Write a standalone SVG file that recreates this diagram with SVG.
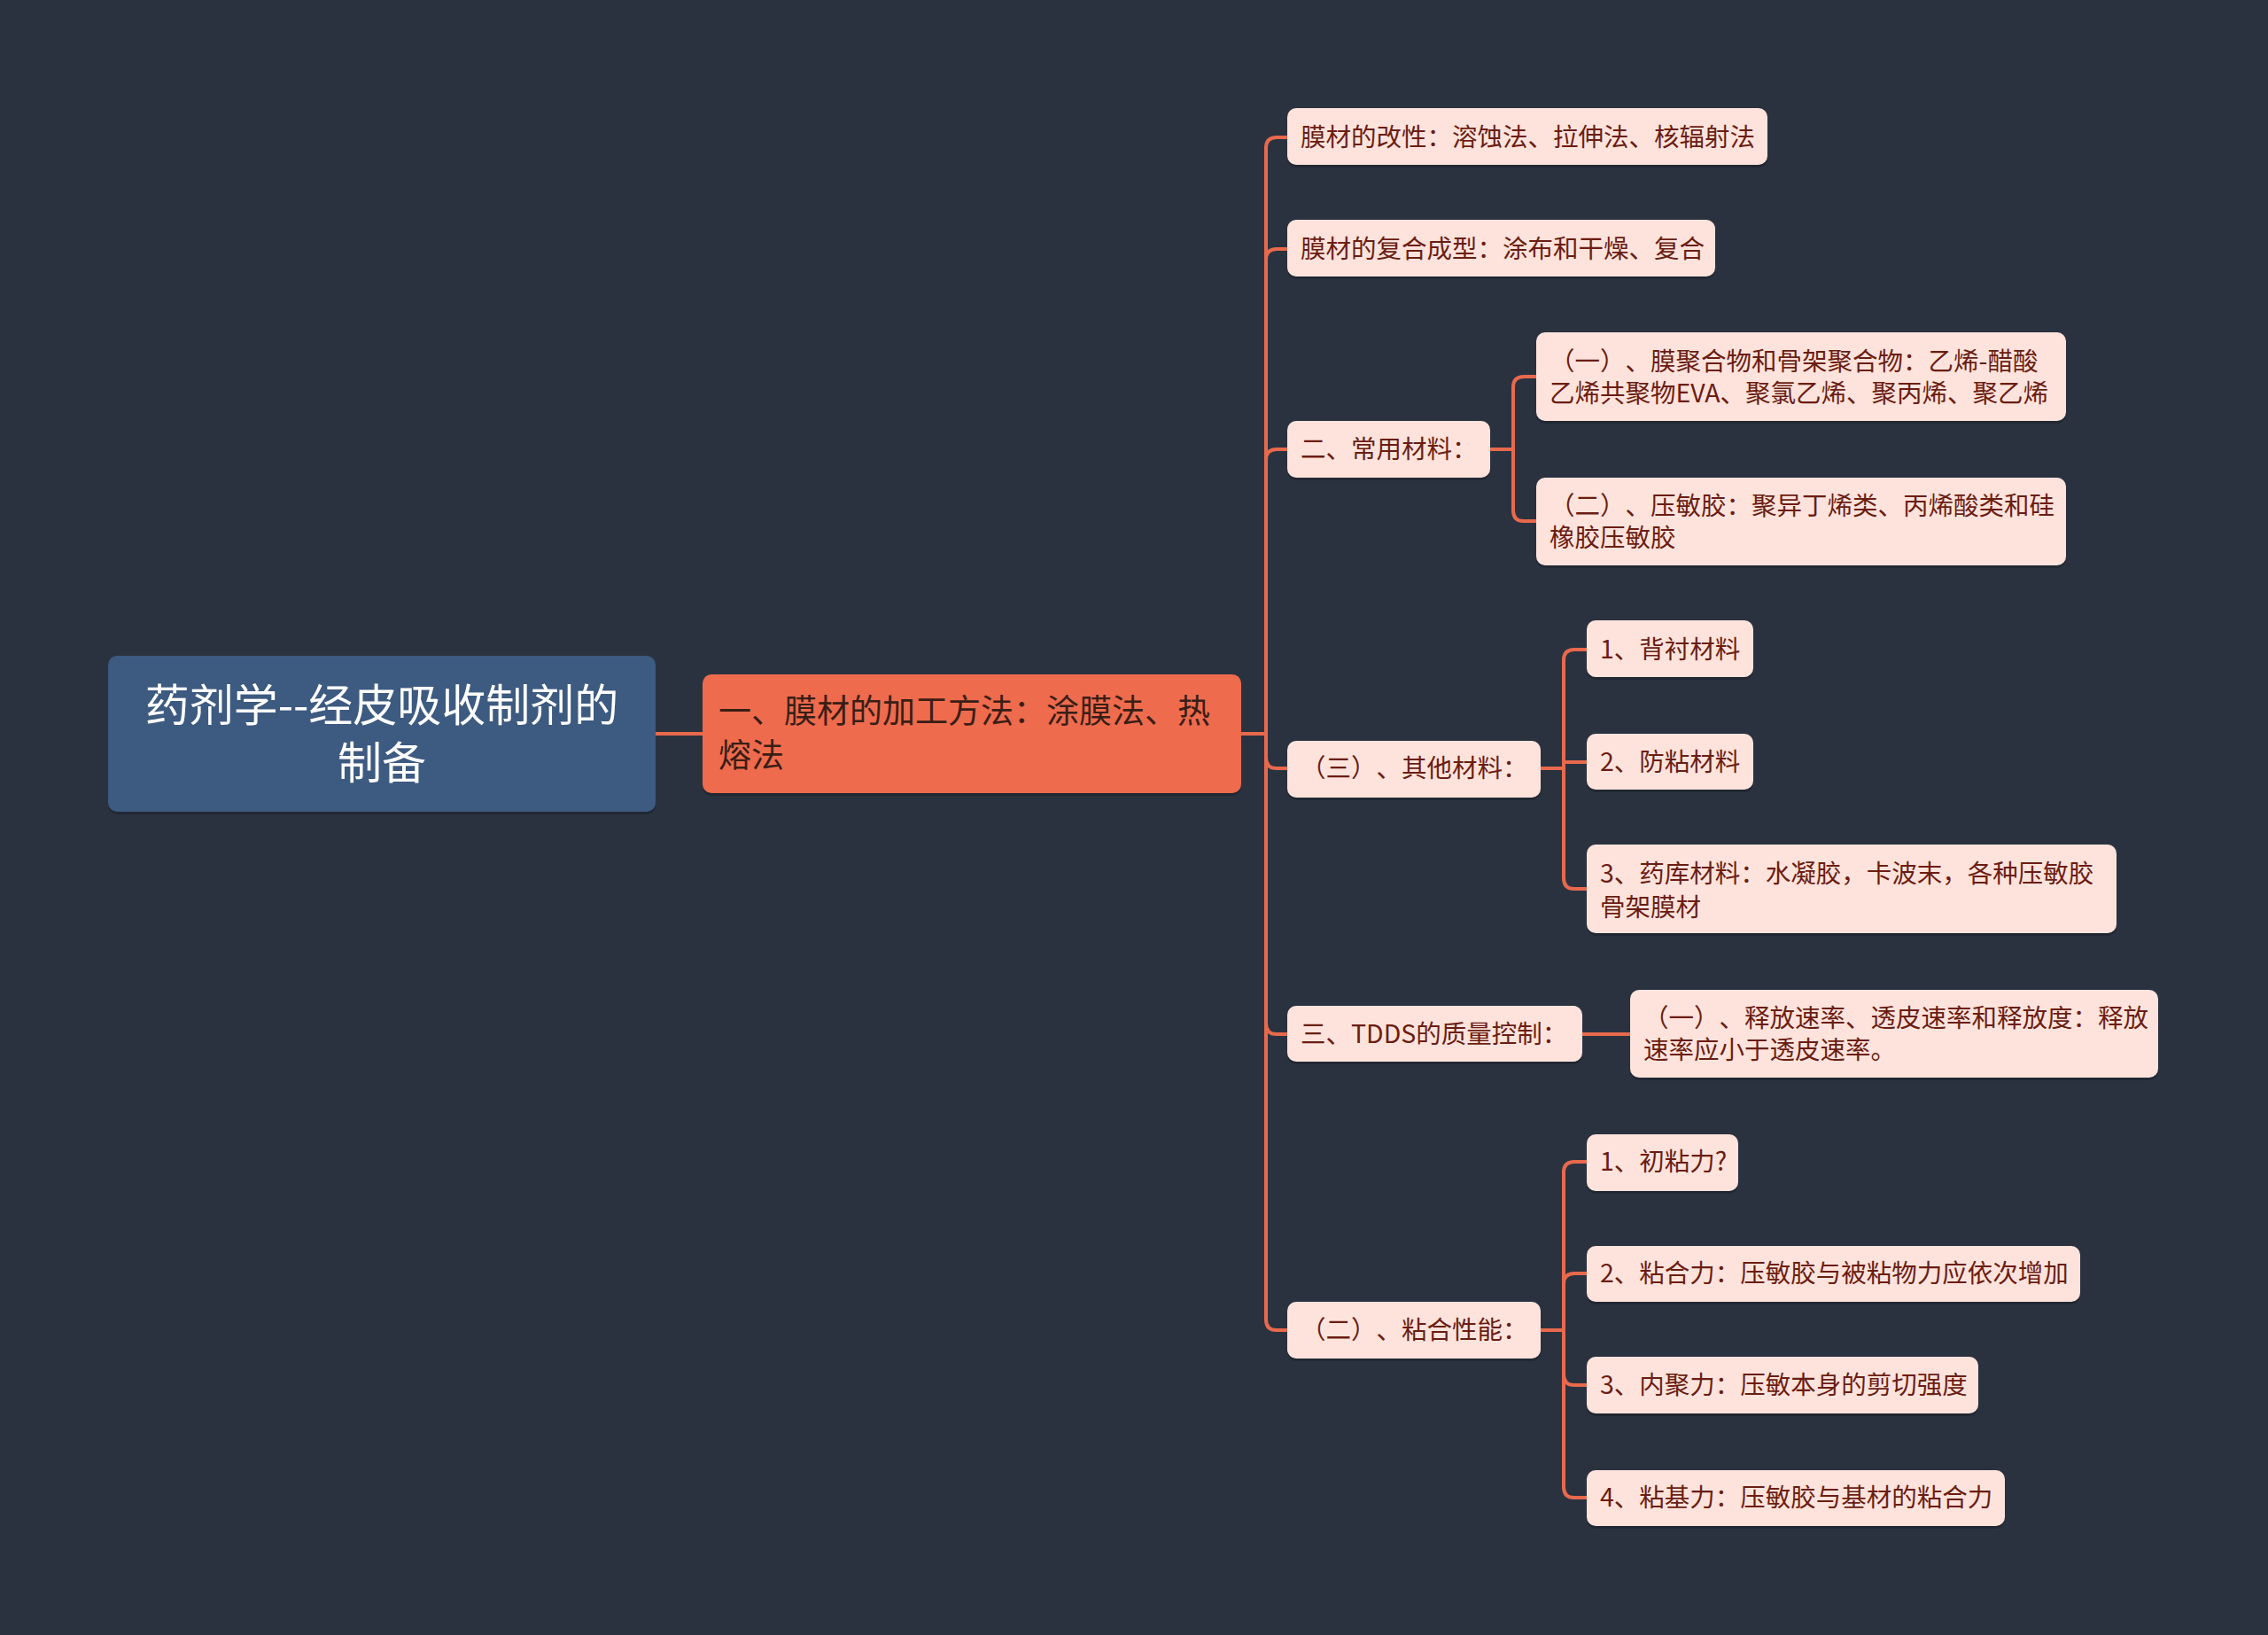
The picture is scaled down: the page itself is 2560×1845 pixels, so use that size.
<svg xmlns="http://www.w3.org/2000/svg" width="2560" height="1845" viewBox="0 0 2560 1845">
<style>
.bg{fill:#2a3240}
.sh{fill:#1c222c;opacity:0.6}
.root{fill:#3d5a80}
.main{fill:#ee6b4d}
.leaf{fill:#fde3dc}
.conn{fill:none;stroke:#e8694c;stroke-width:4;stroke-linecap:round}
text{font-family:"Noto Sans CJK SC","Microsoft YaHei",sans-serif;text-spacing-trim:space-all}
.tr{font-size:50px;fill:#ffffff;text-anchor:middle}
.tm{font-size:37px;fill:#3a1e16}
.tl{font-size:28.5px;fill:#6b1d12}
</style>
<rect class="bg" x="0" y="0" width="2560" height="1845"/>
<g id="connectors">
<path class="conn" d="M740 828 H793"/>
<path class="conn" d="M1401 828 H1429 V167 Q1429 155 1441 155 H1453"/>
<path class="conn" d="M1429 828 V293 Q1429 281 1441 281 H1453"/>
<path class="conn" d="M1429 828 V519 Q1429 507 1441 507 H1453"/>
<path class="conn" d="M1429 828 V855 Q1429 867 1441 867 H1453"/>
<path class="conn" d="M1429 828 V1155 Q1429 1167 1441 1167 H1453"/>
<path class="conn" d="M1429 828 V1489 Q1429 1501 1441 1501 H1453"/>
<path class="conn" d="M1682 507 H1708 V437 Q1708 425 1720 425 H1734"/>
<path class="conn" d="M1708 507 V576 Q1708 588 1720 588 H1734"/>
<path class="conn" d="M1739 867 H1765 V745 Q1765 733 1777 733 H1791"/>
<path class="conn" d="M1765 867 V860 H1791"/>
<path class="conn" d="M1765 867 V991 Q1765 1003 1777 1003 H1791"/>
<path class="conn" d="M1786 1167 H1840"/>
<path class="conn" d="M1739 1501 H1765 V1323 Q1765 1311 1777 1311 H1791"/>
<path class="conn" d="M1765 1501 V1449 Q1765 1437 1777 1437 H1791"/>
<path class="conn" d="M1765 1501 V1551 Q1765 1563 1777 1563 H1791"/>
<path class="conn" d="M1765 1501 V1678 Q1765 1690 1777 1690 H1791"/>
</g>
<g id="root">
<rect class="sh" x="122" y="743" width="618" height="176" rx="10"/>
<rect class="root" x="122" y="740" width="618" height="176" rx="10"/>
<text class="tr" x="431" y="814">药剂学--经皮吸收制剂的</text>
<text class="tr" x="431" y="879">制备</text>
</g>
<g id="main">
<rect class="sh" x="793" y="764" width="608" height="134" rx="10"/>
<rect class="main" x="793" y="761" width="608" height="134" rx="10"/>
<text class="tm" x="811" y="816">一、膜材的加工方法：涂膜法、热</text>
<text class="tm" x="811" y="866">熔法</text>
</g>
<g id="n1">
<rect class="sh" x="1453" y="125" width="542" height="64" rx="10"/>
<rect class="leaf" x="1453" y="122" width="542" height="64" rx="10"/>
<text class="tl" x="1468" y="165">膜材的改性：溶蚀法、拉伸法、核辐射法</text>
</g>
<g id="n2">
<rect class="sh" x="1453" y="251" width="483" height="64" rx="10"/>
<rect class="leaf" x="1453" y="248" width="483" height="64" rx="10"/>
<text class="tl" x="1468" y="291">膜材的复合成型：涂布和干燥、复合</text>
</g>
<g id="n3">
<rect class="sh" x="1453" y="478" width="229" height="64" rx="10"/>
<rect class="leaf" x="1453" y="475" width="229" height="64" rx="10"/>
<text class="tl" x="1468" y="517">二、常用材料：</text>
</g>
<g id="n3a">
<rect class="sh" x="1734" y="378" width="598" height="100" rx="10"/>
<rect class="leaf" x="1734" y="375" width="598" height="100" rx="10"/>
<text class="tl" x="1749" y="418">（一）、膜聚合物和骨架聚合物：乙烯-醋酸</text>
<text class="tl" x="1749" y="454">乙烯共聚物EVA、聚氯乙烯、聚丙烯、聚乙烯</text>
</g>
<g id="n3b">
<rect class="sh" x="1734" y="542" width="598" height="99" rx="10"/>
<rect class="leaf" x="1734" y="539" width="598" height="99" rx="10"/>
<text class="tl" x="1749" y="581">（二）、压敏胶：聚异丁烯类、丙烯酸类和硅</text>
<text class="tl" x="1749" y="617">橡胶压敏胶</text>
</g>
<g id="n4">
<rect class="sh" x="1453" y="839" width="286" height="64" rx="10"/>
<rect class="leaf" x="1453" y="836" width="286" height="64" rx="10"/>
<text class="tl" x="1468" y="877">（三）、其他材料：</text>
</g>
<g id="n4a">
<rect class="sh" x="1791" y="703" width="188" height="64" rx="10"/>
<rect class="leaf" x="1791" y="700" width="188" height="64" rx="10"/>
<text class="tl" x="1806" y="743">1、背衬材料</text>
</g>
<g id="n4b">
<rect class="sh" x="1791" y="831" width="188" height="63" rx="10"/>
<rect class="leaf" x="1791" y="828" width="188" height="63" rx="10"/>
<text class="tl" x="1806" y="870">2、防粘材料</text>
</g>
<g id="n4c">
<rect class="sh" x="1791" y="956" width="598" height="100" rx="10"/>
<rect class="leaf" x="1791" y="953" width="598" height="100" rx="10"/>
<text class="tl" x="1806" y="996">3、药库材料：水凝胶，卡波末，各种压敏胶</text>
<text class="tl" x="1806" y="1034">骨架膜材</text>
</g>
<g id="n5">
<rect class="sh" x="1453" y="1138" width="333" height="63" rx="10"/>
<rect class="leaf" x="1453" y="1135" width="333" height="63" rx="10"/>
<text class="tl" x="1468" y="1177">三、TDDS的质量控制：</text>
</g>
<g id="n5a">
<rect class="sh" x="1840" y="1120" width="596" height="99" rx="10"/>
<rect class="leaf" x="1840" y="1117" width="596" height="99" rx="10"/>
<text class="tl" x="1855" y="1159">（一）、释放速率、透皮速率和释放度：释放</text>
<text class="tl" x="1855" y="1195">速率应小于透皮速率。</text>
</g>
<g id="n6">
<rect class="sh" x="1453" y="1472" width="286" height="64" rx="10"/>
<rect class="leaf" x="1453" y="1469" width="286" height="64" rx="10"/>
<text class="tl" x="1468" y="1511">（二）、粘合性能：</text>
</g>
<g id="n6a">
<rect class="sh" x="1791" y="1283" width="171" height="64" rx="10"/>
<rect class="leaf" x="1791" y="1280" width="171" height="64" rx="10"/>
<text class="tl" x="1806" y="1321">1、初粘力?</text>
</g>
<g id="n6b">
<rect class="sh" x="1791" y="1409" width="557" height="63" rx="10"/>
<rect class="leaf" x="1791" y="1406" width="557" height="63" rx="10"/>
<text class="tl" x="1806" y="1447">2、粘合力：压敏胶与被粘物力应依次增加</text>
</g>
<g id="n6c">
<rect class="sh" x="1791" y="1534" width="442" height="64" rx="10"/>
<rect class="leaf" x="1791" y="1531" width="442" height="64" rx="10"/>
<text class="tl" x="1806" y="1573">3、内聚力：压敏本身的剪切强度</text>
</g>
<g id="n6d">
<rect class="sh" x="1791" y="1662" width="472" height="63" rx="10"/>
<rect class="leaf" x="1791" y="1659" width="472" height="63" rx="10"/>
<text class="tl" x="1806" y="1700">4、粘基力：压敏胶与基材的粘合力</text>
</g>
</svg>
